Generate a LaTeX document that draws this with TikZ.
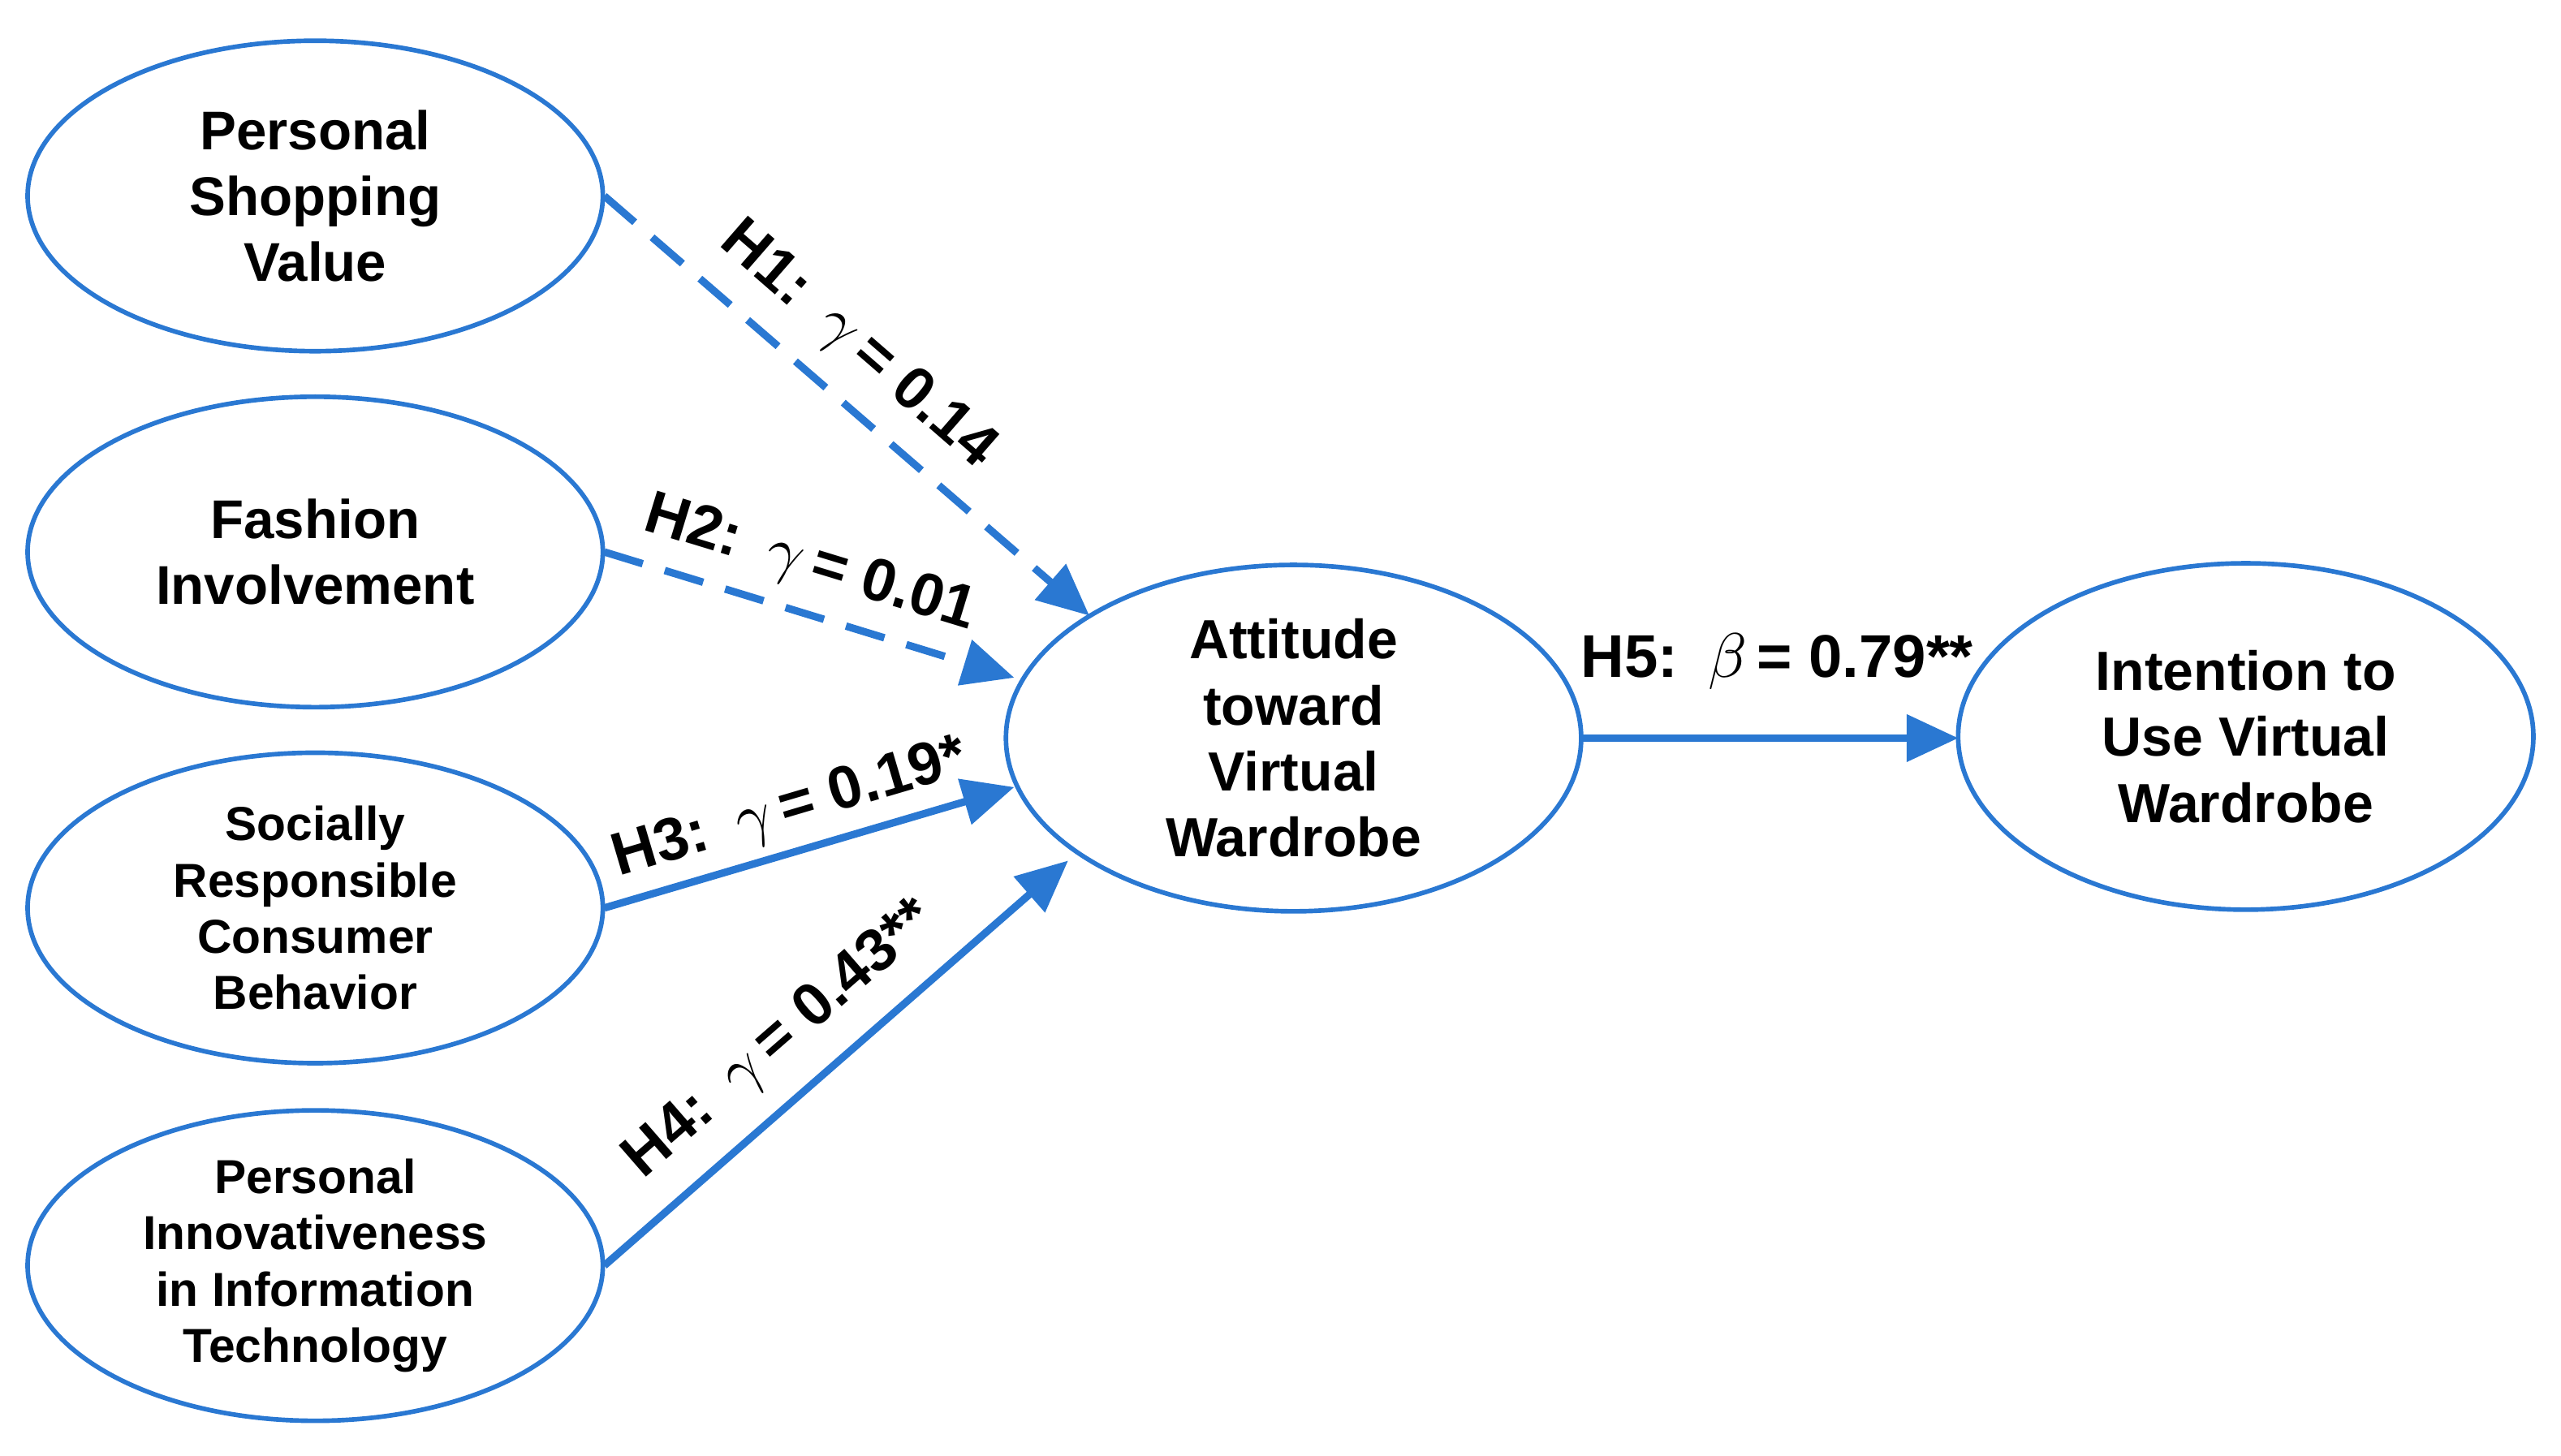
\documentclass[tikz,border=0pt]{standalone}
\usepackage{fontspec}
\setmainfont{Liberation Sans}
\usetikzlibrary{arrows.meta,shapes.geometric}
\definecolor{lb}{HTML}{2A78D2}
\begin{document}
\begin{tikzpicture}[x=0.01cm,y=-0.01cm,
  el/.style={draw=lb,line width=0.8pt,ellipse,minimum width=3.52cm,minimum height=1.9cm,align=center,font=\fontsize{9.5}{11.5}\selectfont\bfseries,inner sep=0pt},
  big/.style={el,minimum height=2.12cm,inner sep=-6pt,font=\fontsize{9.6}{11.5}\selectfont\bfseries},
  sm/.style={el,font=\fontsize{8.3}{9.8}\selectfont\bfseries},
  ar/.style={draw=lb,line width=1.3pt,-{Triangle[length=9pt,width=8pt]}},
  da/.style={ar,dash pattern=on 7pt off 4pt},
  lbl/.style={font=\fontsize{10.5}{12}\selectfont\bfseries,inner sep=1pt}]
\useasboundingbox (0,0) rectangle (1568,891.6);
\node[el] (a) at (193,120) {Personal\\Shopping\\Value};
\node[el] (b) at (193,338) {Fashion\\Involvement};
\node[sm] (c) at (193,556) {Socially\\Responsible\\Consumer\\Behavior};
\node[sm] (d) at (193,775) {Personal\\Innovativeness\\in Information\\Technology};
\node[big,minimum width=3.52cm,minimum height=2.12cm] (e) at (792,452) {Attitude\\toward\\Virtual\\Wardrobe};
\node[big] (f) at (1375,451) {Intention to\\Use Virtual\\Wardrobe};
\coordinate (a1) at (370,120); \coordinate (a2) at (667,377);
\coordinate (b1) at (370,338); \coordinate (b2) at (621,415);
\coordinate (c1) at (370,556); \coordinate (c2) at (621,482);
\coordinate (d1) at (370,775); \coordinate (d2) at (654,527);
\coordinate (e1) at (968,452); \coordinate (f1) at (1199,452);
\draw[da] (a1) -- (a2);
\draw[da] (b1) -- (b2);
\draw[ar] (c1) -- (c2);
\draw[ar] (d1) -- (d2);
\draw[ar] (e1) -- (f1);
\node[lbl,rotate=-41] at (525,212) {H1:\enspace$\gamma$\,= 0.14};
\node[lbl,rotate=-17] at (496,346) {H2:\enspace$\gamma$\,= 0.01};
\node[lbl,rotate=16.5] at (484,496) {H3:\enspace$\gamma$\,= 0.19*};
\node[lbl,rotate=41] at (478,637) {H4:\enspace$\gamma$\,= 0.43**};
\node[lbl] at (1088,405) {H5:\enspace$\beta$\,= 0.79**};
\end{tikzpicture}
\end{document}
